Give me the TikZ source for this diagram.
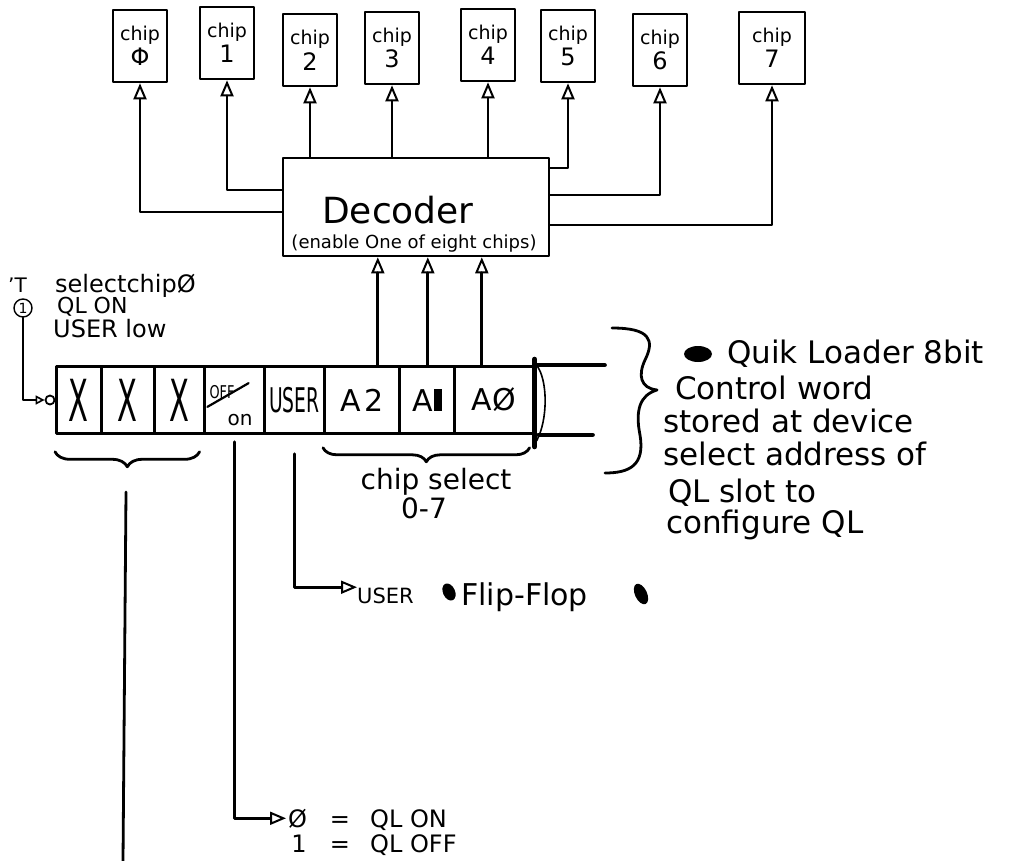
\documentclass[tikz,border=0pt]{standalone}
\usepackage{fontspec}
\usepackage{graphicx}
\setmainfont{DejaVu Sans}
\usetikzlibrary{arrows.meta,calc,decorations.pathreplacing}
\newcommand{\hfs}[1]{\fontsize{#1}{#1}\selectfont}
\begin{document}
\begin{tikzpicture}[x=1pt,y=-1pt, line join=round, line cap=round,
  wire/.style={line width=2.8pt},
  opentip/.style={-{Triangle[open,length=16pt,width=13pt,line width=2pt]}},
  smalltip/.style={-{Triangle[open,length=9pt,width=9pt,line width=1.6pt]}},
  chipbox/.style={draw, line width=2.6pt, minimum width=54pt, minimum height=72pt, inner sep=0pt, align=center, font=\hfs{19}},
  cell/.style={draw, line width=2.6pt, minimum height=67pt, anchor=west, inner sep=0pt},
  blob/.style={fill=black, draw=none},
]
\useasboundingbox (0,0) rectangle (1011,861);

% chips
\node[chipbox] (c0) at (140,46) {chip\\[3pt]{\hfs{24}Φ}};
\node[chipbox] (c1) at (227,43) {chip\\[3pt]{\hfs{24}1}};
\node[chipbox] (c2) at (310,50) {chip\\[3pt]{\hfs{24}2}};
\node[chipbox] (c3) at (392,48) {chip\\[3pt]{\hfs{24}3}};
\node[chipbox] (c4) at (488,45) {chip\\[3pt]{\hfs{24}4}};
\node[chipbox] (c5) at (568,46) {chip\\[3pt]{\hfs{24}5}};
\node[chipbox] (c6) at (660,50) {chip\\[3pt]{\hfs{24}6}};
\node[chipbox, minimum width=66pt] (c7) at (772,48) {chip\\[3pt]{\hfs{24}7}};

% decoder
\node[draw, line width=2.6pt, minimum width=266pt, minimum height=98pt] (dec) at (416,207) {};
\node[font=\hfs{36}, anchor=base, inner sep=0pt] (dl1) at (398,223) {Decoder};
\node[font=\hfs{18}, anchor=base, inner sep=0pt] (dl2) at (414,248) {(enable One of eight chips)};

\coordinate (h0) at (0,212);
\coordinate (h1) at (0,190);
\coordinate (h5) at (0,168);
\coordinate (h6) at (0,195);
\coordinate (h7) at (0,225);
\draw[wire, opentip] (dec.west |- h0) -| (c0.south);
\draw[wire, opentip] (dec.west |- h1) -| (c1.south);
\draw[wire, opentip] (dec.north -| c2.south) -- (c2.south);
\draw[wire, opentip] (dec.north -| c3.south) -- (c3.south);
\draw[wire, opentip] (dec.north -| c4.south) -- (c4.south);
\draw[wire, opentip] (dec.east |- h5) -| (c5.south);
\draw[wire, opentip] (dec.east |- h6) -| (c6.south);
\draw[wire, opentip] (dec.east |- h7) -| (c7.south);

% register
\node[cell, minimum width=45pt] (r1) at (55,400) {\scalebox{0.5}[1]{\hfs{58}X}};
\node[cell, minimum width=53pt] (r2) at (100,400) {\scalebox{0.5}[1]{\hfs{58}X}};
\node[cell, minimum width=50pt] (r3) at (153,400) {\scalebox{0.5}[1]{\hfs{58}X}};
\node[cell, minimum width=60pt] (r4) at (203,400) {};
\node[cell, minimum width=60pt] (r5) at (263,400) {\scalebox{0.55}[1]{\hfs{34}USER}};
\node[cell, minimum width=75pt] (r6) at (323,400) {\hfs{30}A\kern3pt 2};
\node[cell, minimum width=55pt] (r7) at (398,400) {\hfs{30}A\kern1pt\rule[0pt]{8pt}{22pt}};
\node[cell, minimum width=79pt] (r8) at (453,400) {\hfs{30}AØ};

\node[font=\hfs{16}, inner sep=0pt] (off) at (222,392) {\scalebox{0.8}[1.1]{OFF}};
\node[font=\hfs{20}, inner sep=0pt] (on) at (240,420) {on};
\draw[line width=2.2pt] ($(off.south west)+(-2,8)$) -- ($(off.north east)+(14,-2)$);

% right end of register
\draw[line width=4.5pt] (r8.north east) -- ++(70,0);
\draw[line width=4.5pt] ($(r8.south east)+(4,0)$) -- ++(54,0);
\draw[line width=5pt] ($(r8.north east)+(0,-6)$) -- ($(r8.south east)+(0,12)$);
\draw[line width=1.6pt] ($(r8.north east)+(2,0)$) .. controls (548,380) and (548,420) .. ($(r8.south east)+(2,6)$);

% address wires into decoder
\coordinate (w6) at ($(r6.north)+(16,0)$);
\coordinate (w7) at ($(r7.north)+(1,0)$);
\coordinate (w8) at ($(r8.north)+(-12,0)$);
\draw[wire, opentip] (w6) -- (w6 |- dec.south);
\draw[wire, opentip] (w7) -- (w7 |- dec.south);
\draw[wire, opentip] (w8) -- (w8 |- dec.south);

% left annotation
\node[font=\hfs{20}, anchor=base west, inner sep=0pt] (tmark) at (8,292) {'T};
\node[draw, circle, line width=1.4pt, inner sep=0.5pt, minimum size=18pt, font=\hfs{14}] (one) at (23,308) {1};
\node[font=\hfs{24}, anchor=base west, inner sep=0pt] (sel) at (55,292) {selectchipØ};
\node[font=\hfs{22}, anchor=base west, inner sep=0pt] (qlon) at (57,313) {QL ON};
\node[font=\hfs{24}, anchor=base west, inner sep=0pt] (ulow) at (53,337) {USER low};
\node[draw, circle, line width=1.8pt, minimum size=9pt, inner sep=0pt] (bub) at (50,400) {};
\draw[wire, smalltip] (one.south) |- (bub.west);

% brace under X X X
\draw[wire, decorate, decoration={brace, amplitude=15pt, mirror}] ($(r1.south west)+(0,17)$) -- ($(r3.south east)+(-6,17)$);
\coordinate (xtip) at (126,492);
\coordinate (xend) at (123,861);
\draw[wire] (xtip) -- (xend);

% chip select brace
\draw[wire, decorate, decoration={brace, amplitude=14pt, mirror}] ($(r6.south west)+(0,13)$) -- ($(r8.south east)+(-5,13)$);
\node[font=\hfs{28}, anchor=base] (csel) at (436,489) {chip select};
\node[font=\hfs{28}, anchor=base] (c07) at (424,518) {0-7};

% QL on/off
\node[font=\hfs{24}, anchor=base west, inner sep=2pt] (q0) at (286,827) {Ø};
\node[font=\hfs{24}, anchor=base] (eq0) at (340,827) {=};
\node[font=\hfs{24}, anchor=base west, inner sep=0pt] (qon) at (370,827) {QL ON};
\node[font=\hfs{24}, anchor=base] (q1) at (299,852) {1};
\node[font=\hfs{24}, anchor=base] (eq1) at (340,852) {=};
\node[font=\hfs{24}, anchor=base west, inner sep=0pt] (qoff) at (370,852) {QL OFF};
\draw[wire, opentip] ($(r4.south)+(0,7)$) |- (q0.west);

% USER flip-flop
\node[font=\hfs{21}, anchor=base west, inner sep=0pt] (uff) at (357,603) {USER};
\draw[wire, opentip] ($(r5.south)+(0,19)$) |- (uff.north west);
\fill[blob, rotate around={25:(449,592)}] (449,592) ellipse (6 and 9);
\node[font=\hfs{30}, anchor=base west, inner sep=0pt] (ff) at (461,605) {Flip-Flop};
\fill[blob, rotate around={25:(641,594)}] (641,594) ellipse (6 and 11);

% right brace and description
\draw[wire] (612,328) .. controls (650,328) and (655,340) .. (645,360) .. controls (638,375) and (640,388) .. (657,390) .. controls (640,395) and (635,410) .. (640,435) .. controls (645,465) and (630,473) .. (605,473);
\fill[blob] (698,354) ellipse (14 and 8);
\node[font=\hfs{31}, anchor=base west, inner sep=0pt] (t1) at (727,363) {Quik Loader 8bit};
\node[font=\hfs{31}, anchor=base west, inner sep=0pt] (t2) at (675,399) {Control word};
\node[font=\hfs{31}, anchor=base west, inner sep=0pt] (t3) at (663,432) {stored at device};
\node[font=\hfs{31}, anchor=base west, inner sep=0pt] (t4) at (663,465) {select address of};
\node[font=\hfs{31}, anchor=base west, inner sep=0pt] (t5) at (668,502) {QL slot to};
\node[font=\hfs{31}, anchor=base west, inner sep=0pt] (t6) at (666,533) {configure QL};
\end{tikzpicture}
\end{document}
